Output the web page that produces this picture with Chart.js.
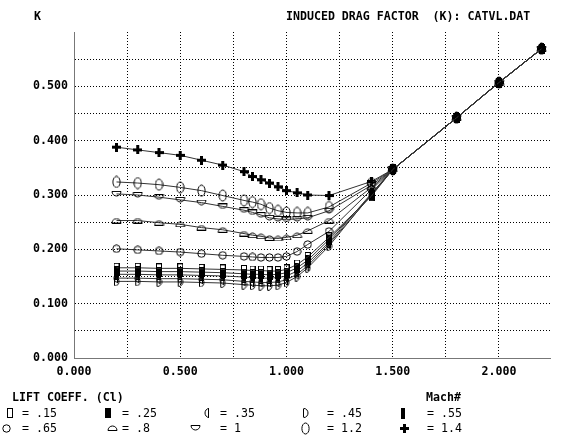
<!DOCTYPE html>
<html><head><meta charset="utf-8">
<script src="https://cdn.jsdelivr.net/npm/chart.js@4.4.1/dist/chart.umd.min.js"></script>
<style>html,body{margin:0;padding:0;background:#fff;}#wrap{position:relative;width:564px;height:439px;}</style>
</head><body><div id="wrap"><canvas id="c"></canvas></div>
<script>
// ---- data ----
const machValues = [0.2,0.3,0.4,0.5,0.6,0.7,0.8,0.84,0.88,0.92,0.96,1.0,1.05,1.1,1.2,1.4,1.5,1.8,2.0,2.2];
const clLabels = ['.15','.25','.35','.45','.55','.65','.8','1','1.2','1.4'];
const k_cl015 = [0.166,0.166,0.165,0.165,0.164,0.163,0.162,0.161,0.161,0.160,0.160,0.163,0.172,0.186,0.222,0.298,0.347,0.442,0.507,0.569];
const k_cl025 = [0.160,0.160,0.159,0.159,0.158,0.157,0.155,0.154,0.154,0.153,0.154,0.157,0.166,0.180,0.218,0.300,0.347,0.442,0.507,0.569];
const k_cl035 = [0.147,0.147,0.146,0.146,0.145,0.144,0.141,0.140,0.139,0.139,0.140,0.144,0.154,0.170,0.210,0.300,0.347,0.442,0.507,0.569];
const k_cl045 = [0.141,0.141,0.140,0.140,0.139,0.138,0.135,0.134,0.133,0.133,0.134,0.139,0.150,0.166,0.206,0.302,0.347,0.442,0.507,0.569];
const k_cl055 = [0.154,0.154,0.153,0.153,0.152,0.151,0.149,0.148,0.147,0.147,0.148,0.151,0.160,0.175,0.213,0.303,0.347,0.442,0.507,0.569];
const k_cl065 = [0.201,0.199,0.197,0.195,0.192,0.189,0.187,0.186,0.185,0.185,0.185,0.187,0.196,0.209,0.233,0.310,0.347,0.442,0.507,0.569];
const k_cl08  = [0.253,0.253,0.249,0.246,0.240,0.236,0.229,0.226,0.224,0.221,0.220,0.222,0.226,0.234,0.253,0.314,0.347,0.442,0.507,0.569];
const k_cl10  = [0.302,0.300,0.296,0.291,0.286,0.279,0.272,0.268,0.263,0.258,0.256,0.255,0.256,0.258,0.271,0.318,0.347,0.442,0.507,0.569];
const k_cl12  = [0.324,0.322,0.319,0.314,0.308,0.299,0.290,0.287,0.283,0.276,0.271,0.268,0.267,0.267,0.278,0.322,0.347,0.442,0.507,0.569];
const k_cl14  = [0.388,0.383,0.378,0.373,0.364,0.355,0.343,0.334,0.328,0.322,0.315,0.308,0.304,0.300,0.299,0.325,0.347,0.442,0.507,0.569];
const xTickLabels = ['0.000','0.500','1.000','1.500','2.000'];
const yTickLabels = ['0.000','0.100','0.200','0.300','0.400','0.500'];
const titleText = 'INDUCED DRAG FACTOR  (K): CATVL.DAT';
const yAxisTitle = 'K';
const legendTitle = 'LIFT COEFF. (Cl)';
const legendColTitle = 'Mach#';

// ---- symbols ----
function sym(w,h,fn){const c=document.createElement('canvas');c.width=w;c.height=h;const g=c.getContext('2d');g.strokeStyle='#000';g.fillStyle='#000';g.lineWidth=1;fn(g);return c;}
const symbols = [
  sym(6,10,g=>{g.strokeRect(0.5,0.5,5,9);}),
  sym(6,10,g=>{g.fillRect(0,0,6,10);}),
  sym(7,10,g=>{g.beginPath();g.ellipse(5,5,4,4.5,0,Math.PI/2,Math.PI*1.5);g.stroke();g.beginPath();g.moveTo(4.5,0.5);g.lineTo(4.5,9.5);g.stroke();}),
  sym(7,10,g=>{g.beginPath();g.moveTo(1.5,0.5);g.lineTo(1.5,9.5);g.stroke();g.beginPath();g.ellipse(2,5,4,4.5,0,-Math.PI/2,Math.PI/2);g.stroke();}),
  sym(4,11,g=>{g.fillRect(0,0,4,11);}),
  sym(9,9,g=>{g.beginPath();g.arc(4.5,4.5,3.7,0,Math.PI*2);g.stroke();}),
  sym(11,6,g=>{g.beginPath();g.ellipse(5.5,5.5,4.5,4.5,0,Math.PI,Math.PI*2);g.closePath();g.stroke();}),
  sym(11,6,g=>{g.beginPath();g.ellipse(5.5,0.5,4.5,4.5,0,0,Math.PI);g.closePath();g.stroke();}),
  sym(9,13,g=>{g.beginPath();g.ellipse(4.5,6.5,3.6,5.5,0,0,Math.PI*2);g.stroke();}),
  sym(9,9,g=>{g.fillRect(3,0,3,9);g.fillRect(0,3,9,3);})
];
const series = [k_cl015,k_cl025,k_cl035,k_cl045,k_cl055,k_cl065,k_cl08,k_cl10,k_cl12,k_cl14];

const datasets = series.map((arr,i)=>({
  label: clLabels[i],
  data: machValues.map((x,j)=>({x:x,y:arr[j]})),
  borderColor:'#333', borderWidth:1, backgroundColor:'transparent',
  pointStyle: symbols[i], pointRadius:4, pointHoverRadius:4, tension:0, fill:false
}));

const FONT = '"DejaVu Sans Mono", monospace';
const legendSymX = [10,108,207,305,403,6,112,195,305,404];
const legendTextX = [22,122,220,327,427,22,122,220,327,427];
const legendRowY = [413,428];

const decor = {
  id:'decor',
  afterDraw(chart){
    const ctx = chart.ctx;
    ctx.save();
    ctx.fillStyle='#000';
    ctx.textBaseline='middle';
    ctx.textAlign='left';
    ctx.font='bold 11.6px '+FONT;
    ctx.fillText(yAxisTitle,34,17);
    ctx.fillText(titleText,286,17);
    ctx.fillText(legendTitle,12,398);
    ctx.fillText(legendColTitle,426,398);
    ctx.font='11.6px '+FONT;
    chart.data.datasets.forEach((ds,i)=>{
      const row = Math.floor(i/5);
      const y = legendRowY[row];
      const s = ds.pointStyle;
      ctx.drawImage(s, Math.round(legendSymX[i]-s.width/2), Math.round(y-s.height/2));
      ctx.fillText('= '+ds.label, legendTextX[i], y+0.5);
    });
    ctx.restore();
  }
};

function lbl(v, step, arr){
  const q = v/step; const r = Math.round(q);
  if (Math.abs(q-r) < 1e-6 && r>=0 && r<arr.length) return arr[r];
  return '';
}

new Chart(document.getElementById('c'), {
  type:'line',
  data:{datasets:datasets},
  options:{
    responsive:true, maintainAspectRatio:false, animation:false, devicePixelRatio:1,
    layout:{padding:{top:32,right:14,left:0,bottom:0}},
    plugins:{legend:{display:false},tooltip:{enabled:false},title:{display:false}},
    events:[],
    scales:{
      x:{type:'linear',min:0,max:2.24,
        afterFit:s=>{s.height=81;},
        ticks:{stepSize:0.25,includeBounds:false,autoSkip:false,maxRotation:0,padding:7,color:'#000',
          font:{family:FONT,size:11.6,weight:'bold'},callback:v=>lbl(v,0.5,xTickLabels)},
        grid:{color:'#000',lineWidth:1,drawTicks:false},
        border:{display:true,color:'#777',width:1,dash:[1,2]}
      },
      y:{type:'linear',min:0,max:0.6,
        afterFit:s=>{s.width=74;},
        ticks:{stepSize:0.05,includeBounds:false,autoSkip:false,padding:6,color:'#000',
          font:{family:FONT,size:11.6,weight:'bold'},callback:v=>lbl(v,0.1,yTickLabels)},
        grid:{color:c=>(c.tick && c.tick.value>0.599)?'rgba(0,0,0,0)':'#000',lineWidth:1,drawTicks:false},
        border:{display:true,color:'#777',width:1,dash:[1,2]}
      }
    }
  },
  plugins:[decor]
});
</script></body></html>
